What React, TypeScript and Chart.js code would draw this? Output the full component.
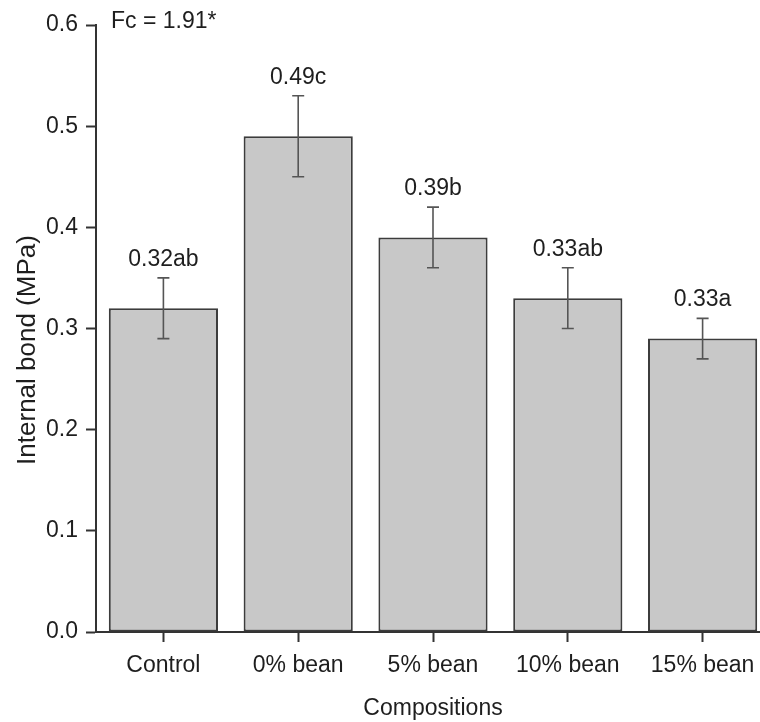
import React, { useEffect, useRef } from "react";
import { Chart, registerables } from "chart.js";

Chart.register(...registerables);

const categories = ["Control", "0% bean", "5% bean", "10% bean", "15% bean"];
const means = [0.32, 0.49, 0.39, 0.33, 0.29];
const errors = [0.03, 0.04, 0.03, 0.03, 0.02];
const letterLabels = ["0.32ab", "0.49c", "0.39b", "0.33ab", "0.33a"];
const yTicks = [0, 0.1, 0.2, 0.3, 0.4, 0.5, 0.6];
const annotationText = "Fc = 1.91*";
const yTitle = "Internal bond (MPa)";
const xTitle = "Compositions";

const FONT = "'Liberation Sans', Arial, sans-serif";
const TEXT = "#1e1e1e";
const AXIS = "#333333";

const overlayPlugin = {
  id: "overlay",
  afterDatasetsDraw(chart: any) {
    const ctx = chart.ctx;
    const meta = chart.getDatasetMeta(0);
    const ys = chart.scales.y;
    const area = chart.chartArea;
    ctx.save();
    // error bars
    ctx.strokeStyle = "#555555";
    ctx.lineWidth = 1.6;
    means.forEach((m, i) => {
      const el = meta.data[i];
      const x = el.x;
      const yt = ys.getPixelForValue(m + errors[i]);
      const yb = ys.getPixelForValue(m - errors[i]);
      ctx.beginPath();
      ctx.moveTo(x, yt);
      ctx.lineTo(x, yb);
      ctx.moveTo(x - 6, yt);
      ctx.lineTo(x + 6, yt);
      ctx.moveTo(x - 6, yb);
      ctx.lineTo(x + 6, yb);
      ctx.stroke();
    });
    // letter labels
    ctx.fillStyle = TEXT;
    ctx.font = `23px ${FONT}`;
    ctx.textAlign = "center";
    ctx.textBaseline = "alphabetic";
    means.forEach((m, i) => {
      const el = meta.data[i];
      const yt = ys.getPixelForValue(m + errors[i]);
      ctx.fillText(letterLabels[i], el.x, yt - 12);
    });
    // Fc annotation
    ctx.textAlign = "left";
    ctx.textBaseline = "middle";
    ctx.font = `23px ${FONT}`;
    ctx.fillText(annotationText, area.left + 15, area.top - 3);
    // y title
    ctx.save();
    ctx.translate(28, 350);
    ctx.rotate(-Math.PI / 2);
    ctx.textAlign = "center";
    ctx.textBaseline = "middle";
    ctx.font = `26px ${FONT}`;
    ctx.fillText(yTitle, 0, 0);
    ctx.restore();
    ctx.restore();
  },
};

export default function App() {
  const ref = useRef<HTMLCanvasElement>(null);
  useEffect(() => {
    if (!ref.current) return;
    const chart = new Chart(ref.current, {
      type: "bar",
      data: {
        labels: categories,
        datasets: [
          {
            data: means,
            backgroundColor: "#c8c8c8",
            borderColor: "#3c3c3c",
            borderWidth: 2,
            borderSkipped: false,
            barPercentage: 0.81,
            categoryPercentage: 1,
          },
        ],
      },
      options: {
        animation: false,
        responsive: false,
        devicePixelRatio: 1,
        layout: { padding: { top: 25, right: 0, bottom: 0, left: 0 } },
        plugins: {
          legend: { display: false },
          tooltip: { enabled: false },
        },
        scales: {
          x: {
            type: "category",
            offset: true,
            grid: {
              offset: false,
              drawOnChartArea: false,
              drawTicks: true,
              tickLength: 10,
              tickColor: AXIS,
              tickWidth: 2,
            },
            border: { display: true, color: AXIS, width: 2 },
            ticks: {
              color: TEXT,
              font: { family: FONT, size: 23 },
              padding: 10,
              maxRotation: 0,
            },
            title: {
              display: true,
              text: xTitle,
              color: TEXT,
              font: { family: FONT, size: 23 },
              padding: { top: 6, bottom: 0 },
            },
            afterFit: (s: any) => {
              s.height = 90;
            },
          },
          y: {
            min: 0,
            max: 0.6,
            afterBuildTicks: (s: any) => {
              s.ticks = yTicks.map((v) => ({ value: v }));
            },
            grid: {
              drawOnChartArea: false,
              drawTicks: true,
              tickLength: 10,
              tickColor: AXIS,
              tickWidth: 2,
            },
            border: { display: true, color: AXIS, width: 2 },
            ticks: {
              color: TEXT,
              font: { family: FONT, size: 23 },
              padding: 8,
              callback: (v: any) => Number(v).toFixed(1),
            },
            afterFit: (s: any) => {
              s.width = 96;
            },
          },
        },
      },
      plugins: [overlayPlugin],
    });
    return () => chart.destroy();
  }, []);
  return (
    <div
      style={{
        position: "absolute",
        left: 0,
        top: 0,
        width: 760,
        height: 722,
        overflow: "hidden",
        background: "#ffffff",
      }}
    >
      <canvas ref={ref} width={770} height={722} style={{ width: 770, height: 722 }} />
    </div>
  );
}
